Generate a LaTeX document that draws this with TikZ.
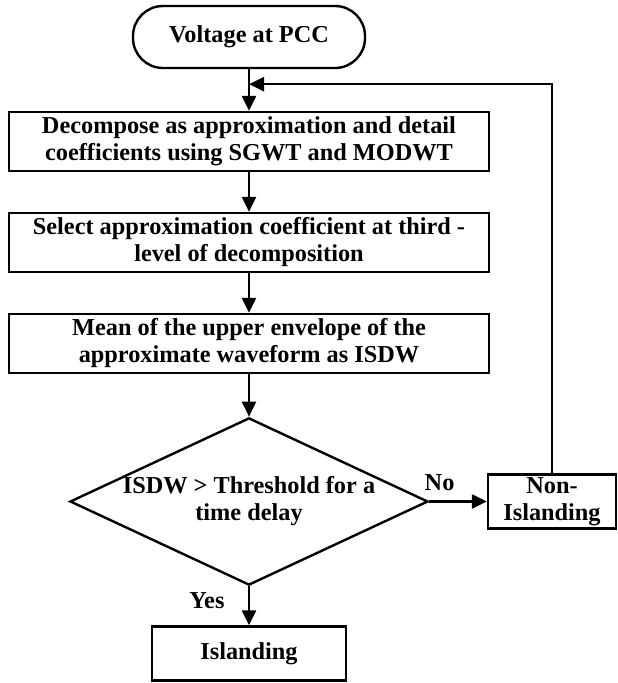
\documentclass[tikz,border=0pt]{standalone}
\usepackage{fontspec}
\setmainfont{Liberation Serif}
\usetikzlibrary{shapes.geometric,arrows.meta,positioning}

\begin{document}
\begin{tikzpicture}[-{Triangle[length=15pt,width=14pt]}, line width=2.4pt, node distance=101pt,
	font=\fontsize{24.3}{27}\selectfont\bfseries]
	\tikzstyle{block}=[draw,rectangle,align=center,inner sep=0pt,minimum width=480pt,minimum height=59pt]
	\tikzstyle{terminal}=[draw,rectangle,rounded corners=30pt,inner sep=0pt,minimum width=232pt,minimum height=62pt]
	\tikzstyle{decision}=[draw,diamond,align=center,aspect=2.14,inner sep=0pt,minimum width=356pt,minimum height=166pt]
	\tikzstyle{result}=[draw,rectangle,align=center,inner sep=0pt,minimum height=54pt]
	\useasboundingbox (0,0) rectangle (618pt,-683pt);

	\node[terminal] (pcc)     at (249pt,-37pt)                   {Voltage at PCC};
	\node[block]    (decomp)  [below of=pcc, node distance=104.5pt] {Decompose as approximation and detail\\coefficients using SGWT and MODWT};
	\node[block]    (select)  [below of=decomp]                  {Select approximation coefficient at third -\\level of decomposition};
	\node[block]    (isdw)    [below of=select]                  {Mean of the upper envelope of the\\approximate waveform as ISDW};
	\node[decision] (check)   [below of=isdw, node distance=158pt] {ISDW > Threshold for a\\time delay};
	\node[result, minimum width=194pt] (island)    [below of=check, node distance=152pt] {Islanding};
	\node[result, minimum width=128pt] (nonisland) [right of=check, node distance=303pt] {Non-\\Islanding};
	\coordinate (join) at ([yshift=-15pt]pcc.south);

	\path % main flow
	(pcc)    edge                              (decomp)
	(decomp) edge                              (select)
	(select) edge                              (isdw)
	(isdw)   edge                              (check)
	(check)  edge node[pos=0.36, left=20pt]{Yes} (island)
	(check)  edge node[pos=0.18, above=6pt]{No}  (nonisland);

	\draw (nonisland.north) |- (join); % back to the start
\end{tikzpicture}
\end{document}
